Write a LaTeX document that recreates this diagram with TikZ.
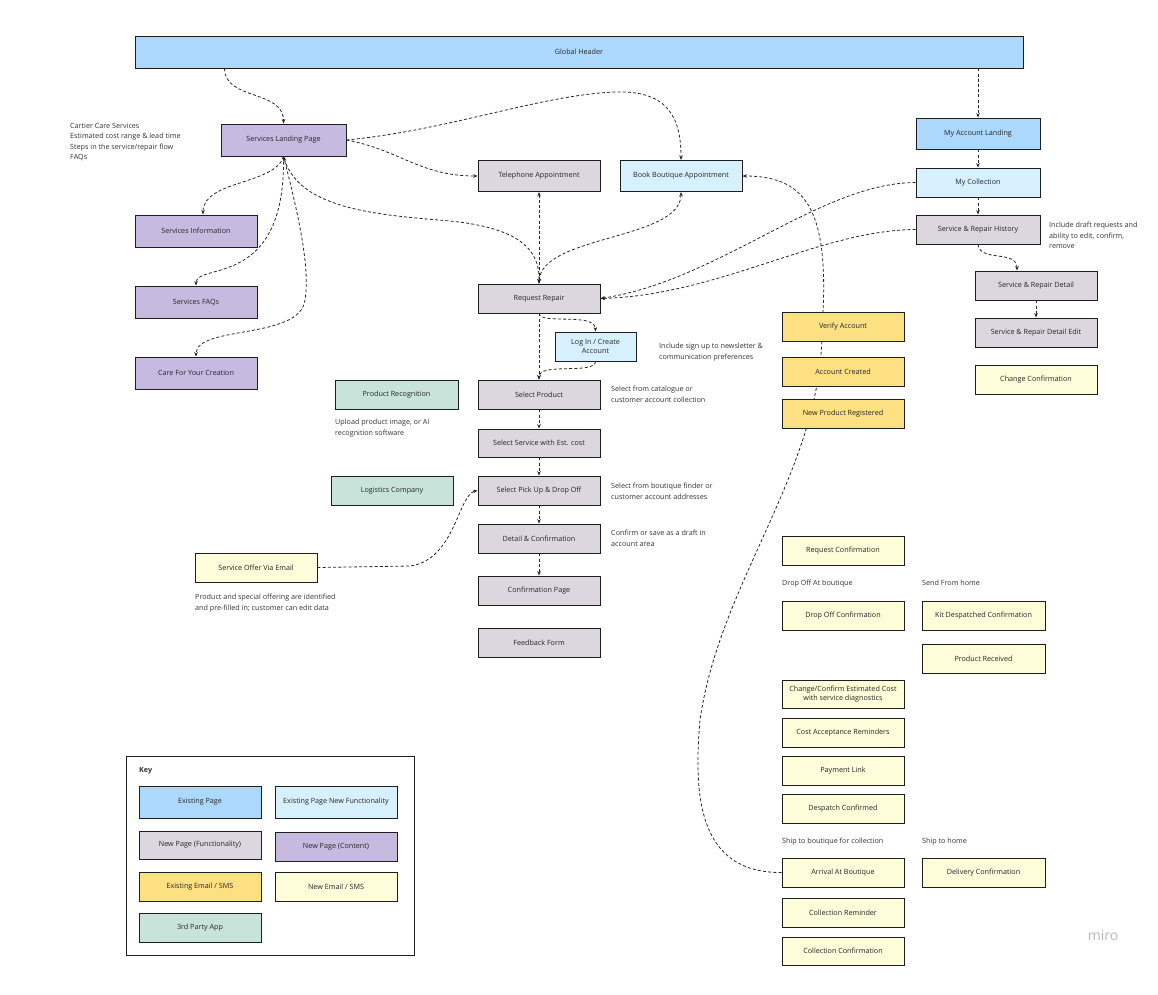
\documentclass[tikz,border=0pt]{standalone}
\usepackage{fontspec}
\setmainfont{Open Sans}
\definecolor{exPage}{RGB}{173,216,253}
\definecolor{exPageNew}{RGB}{214,241,253}
\definecolor{newFunc}{RGB}{220,214,222}
\definecolor{newCont}{RGB}{198,186,224}
\definecolor{exMail}{RGB}{252,224,130}
\definecolor{newMail}{RGB}{254,253,217}
\definecolor{thirdApp}{RGB}{200,227,218}
\definecolor{boxline}{RGB}{30,30,30}
\usetikzlibrary{arrows.meta,positioning,calc,backgrounds}

\begin{document}
\begin{tikzpicture}[x=1pt, y=-1pt,
  pbox/.style={rectangle, draw=boxline, line width=0.9pt,
               minimum width=122pt, minimum height=29pt, inner sep=2pt,
               font=\fontsize{7.2}{9.5}\selectfont, align=center, text=black!85},
  note/.style={anchor=north west, inner sep=0pt, align=left,
               font=\fontsize{7.2}{10.5}\selectfont, text=black!80},
  link/.style={draw=black!85, line width=0.8pt, dash pattern=on 3pt off 2.2pt,
               -{Stealth[length=4.5pt,width=3.5pt]}},
  blink/.style={link, {Stealth[length=4.5pt,width=3.5pt]}-{Stealth[length=4.5pt,width=3.5pt]}}
]
\useasboundingbox (0,0) rectangle (1158,994);

% Header
\node[pbox, fill=exPage, minimum width=888pt, minimum height=32pt] (gh) at (579,52) {Global Header};

% Services content
\node[pbox, fill=newCont, minimum width=125pt, minimum height=32pt] (slp) at (283.5,140) {Services Landing Page};
\node[pbox, fill=newCont, minimum height=32pt] (sinfo) at (196,231) {Services Information};
\node[pbox, fill=newCont, minimum height=32pt] (sfaq) at (196,302) {Services FAQs};
\node[pbox, fill=newCont, minimum height=32pt] (care) at (196,373) {Care For Your Creation};
\node[note] (slpnote) at (70,123) {Cartier Care Services\\Estimated cost range \& lead time\\Steps in the service/repair flow\\FAQs};

% Request repair flow
\node[pbox, fill=newFunc, minimum height=31pt] (tel) at (539,176) {Telephone Appointment};
\node[pbox, fill=exPageNew, minimum height=31pt] (bba) at (681,176) {Book Boutique Appointment};
\node[pbox, fill=newFunc] (rr) at (539,298.5) {Request Repair};
\node[pbox, fill=exPageNew, minimum width=81pt] (login) at (595.5,346.5) {Log In / Create\\Account};
\node[pbox, fill=newFunc] (sp) at (539,394.5) {Select Product};
\node[pbox, fill=thirdApp, minimum width=123pt] (prec) at (396.5,394.5) {Product Recognition};
\node[pbox, fill=newFunc, minimum height=28pt] (ssvc) at (539,443) {Select Service with Est. cost};
\node[pbox, fill=newFunc] (pudo) at (539,490.5) {Select Pick Up \& Drop Off};
\node[pbox, fill=thirdApp] (logi) at (392,490.5) {Logistics Company};
\node[pbox, fill=newFunc] (dc) at (539,538.5) {Detail \& Confirmation};
\node[pbox, fill=newFunc] (cp) at (539,590.5) {Confirmation Page};
\node[pbox, fill=newFunc] (fb) at (539,642.5) {Feedback Form};
\node[pbox, fill=newMail] (soe) at (256,567.5) {Service Offer Via Email};

\node[note] (loginnote) at (659,343) {Include sign up to newsletter \&\\communication preferences};
\node[note] (spnote) at (611,386) {Select from catalogue or\\customer account collection};
\node[note] (precnote) at (335,419) {Upload product image, or AI\\recognition software};
\node[note] (pudonote) at (611,483) {Select from boutique finder or\\customer account addresses};
\node[note] (dcnote) at (611,530) {Confirm or save as a draft in\\account area};
\node[note] (soenote) at (195,594) {Product and special offering are identified\\and pre-filled in; customer can edit data};

% My account
\node[pbox, fill=exPage, minimum width=124pt, minimum height=31pt] (mal) at (978,133.5) {My Account Landing};
\node[pbox, fill=exPageNew, minimum width=124pt] (mcol) at (978,182.5) {My Collection};
\node[pbox, fill=newFunc, minimum width=124pt] (srh) at (978,229.5) {Service \& Repair History};
\node[pbox, fill=newFunc] (srd) at (1036,285.5) {Service \& Repair Detail};
\node[pbox, fill=newFunc] (srde) at (1036,332.5) {Service \& Repair Detail Edit};
\node[pbox, fill=newMail] (chc) at (1036,379.5) {Change Confirmation};
\node[note] (srhnote) at (1049,222) {Include draft requests and\\ability to edit, confirm,\\remove};

% Emails / SMS
\node[pbox, fill=exMail] (va) at (843,326.5) {Verify Account};
\node[pbox, fill=exMail] (ac) at (843,371.5) {Account Created};
\node[pbox, fill=exMail] (npr) at (843,413.5) {New Product Registered};
\node[pbox, fill=newMail] (rqc) at (843,550.5) {Request Confirmation};
\node[note] (dropnote) at (782,580) {Drop Off At boutique};
\node[note] (sendnote) at (922,580) {Send From home};
\node[pbox, fill=newMail] (doc) at (843,616) {Drop Off Confirmation};
\node[pbox, fill=newMail, minimum width=123pt] (kdc) at (983.5,616) {Kit Despatched Confirmation};
\node[pbox, fill=newMail, minimum width=123pt] (prcv) at (983.5,658.5) {Product Received};
\node[pbox, fill=newMail, minimum height=28pt] (cec) at (843,694) {Change/Confirm Estimated Cost\\with service diagnostics};
\node[pbox, fill=newMail] (car) at (843,732.5) {Cost Acceptance Reminders};
\node[pbox, fill=newMail] (pl) at (843,770.5) {Payment Link};
\node[pbox, fill=newMail] (dsc) at (843,808.5) {Despatch Confirmed};
\node[note] (shipbnote) at (782,838) {Ship to boutique for collection};
\node[note] (shiphnote) at (922,838) {Ship to home};
\node[pbox, fill=newMail] (arr) at (843,872.5) {Arrival At Boutique};
\node[pbox, fill=newMail, minimum width=123pt] (dlc) at (983.5,872.5) {Delivery Confirmation};
\node[pbox, fill=newMail] (crm) at (843,912.5) {Collection Reminder};
\node[pbox, fill=newMail, minimum height=28pt] (ccf) at (843,951) {Collection Confirmation};

% Key
\node[draw=boxline, line width=0.8pt, minimum width=288pt, minimum height=199pt, inner sep=0pt] (keyframe) at (270,855.5) {};
\node[note, font=\fontsize{7.2}{9}\selectfont\bfseries] (keytitle) at (139,767) {Key};
\node[pbox, fill=exPage, minimum height=32pt] (k1) at (200,802) {Existing Page};
\node[pbox, fill=exPageNew, minimum height=32pt] (k2) at (336,802) {Existing Page New Functionality};
\node[pbox, fill=newFunc, minimum height=28pt] (k3) at (200,845) {New Page (Functionality)};
\node[pbox, fill=newCont] (k4) at (336,846.5) {New Page (Content)};
\node[pbox, fill=exMail] (k5) at (200,886.5) {Existing Email / SMS};
\node[pbox, fill=newMail] (k6) at (336,886.5) {New Email / SMS};
\node[pbox, fill=thirdApp] (k7) at (200,927.5) {3rd Party App};

\node[font=\fontsize{14}{14}\selectfont, text=black!28] (miro) at (1103,935) {miro};

% Header links
\draw[link] ($(gh.south west)+(90,0)$) .. controls +(0,32) and +(0,-34) .. (slp.north);
\draw[link] (mal |- gh.south) -- (mal.north);
\draw[link] (mal.south) -- (mcol.north);
\draw[link] (mcol.south) -- (srh.north);
\draw[link] (srh.south) .. controls +(2,18) and +(0,-21) .. ($(srd.north)+(-19,0)$);
\draw[link] (srd.south) -- (srde.north);

% Services landing links
\draw[link] (slp.east) .. controls (400,150) and (420,176) .. (tel.west);
\draw[link] (slp.east) .. controls (450,130) and (540,95) .. (615,92) .. controls (670,90) and (681,120) .. (bba.north);
\draw[link] (slp.south) .. controls (275,185) and (203,180) .. ($(sinfo.north)+(7,0)$);
\draw[link] (slp.south) .. controls (286,290) and (196,262) .. (sfaq.north);
\draw[link] (slp.south) .. controls (300,220) and (310,270) .. (305,300) .. controls (300,340) and (196,325) .. (care.north);
\draw[blink] (slp.south) .. controls (300,210) and (380,215) .. (450,221) .. controls (520,228) and (540,250) .. (rr.north);

% Into request repair
\draw[blink] (tel.south) -- (rr.north);
\draw[blink] (bba.south) .. controls (681,240) and (541,235) .. (rr.north);
\draw[link] (mcol.west) .. controls (820,183) and (720,280) .. (rr.east);
\draw[link] (srh.west) .. controls (820,230) and (720,295) .. (rr.east);

% Request flow
\draw[link] (rr.south) .. controls (540,325) and (595,312) .. (login.north);
\draw[link] (login.south) .. controls (595,375) and (539,362) .. (sp.north);
\draw[link] (rr.south) -- (sp.north);
\draw[link] (sp.south) -- (ssvc.north);
\draw[link] (ssvc.south) -- (pudo.north);
\draw[link] (pudo.south) -- (dc.north);
\draw[link] (dc.south) -- (cp.north);
\draw[link] (soe.east) -- (410,566) .. controls (455,560) and (458,495) .. (pudo.west);

% Boutique arrival back to appointment
\begin{scope}[on background layer]
\draw[link] (arr.west) .. controls (700,873) and (693,800) .. (700,720)
  .. controls (720,580) and (822,470) .. (822,330)
  .. controls (830,215) and (810,176) .. (bba.east);
\end{scope}
\end{tikzpicture}
\end{document}
